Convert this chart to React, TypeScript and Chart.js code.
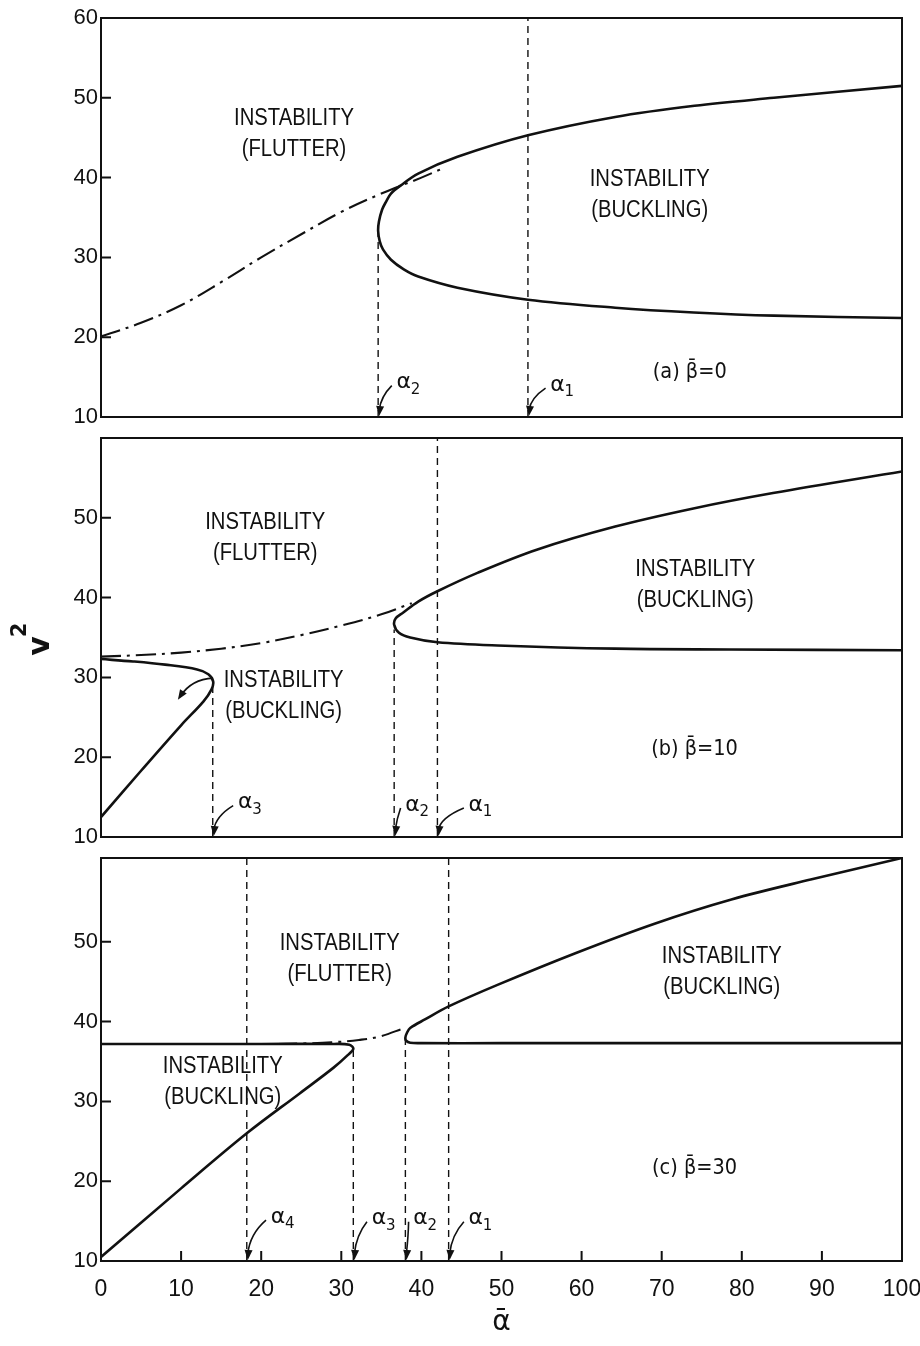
import React, { useEffect, useRef } from "react";
import { Chart, registerables } from "chart.js";

Chart.register(...registerables);

// ---------------- data ----------------
const X_TICKS = [0, 10, 20, 30, 40, 50, 60, 70, 80, 90, 100];
const Y_TICKS_A = [10, 20, 30, 40, 50, 60];
const Y_TICKS_B = [10, 20, 30, 40, 50];
const Y_TICKS_C = [10, 20, 30, 40, 50];

// (a) beta = 0
const A_FLUTTER_X = [0, 5, 10, 15, 20, 25, 30, 35, 40, 43];
const A_FLUTTER_Y = [20.1, 21.8, 24.0, 26.9, 30.0, 32.9, 35.7, 38.0, 40.0, 41.3];
const A_BUCK_X = [100, 84, 74, 64.2, 53.3, 44.5, 39.6, 37.8, 36.2, 35.2, 34.8, 34.6, 34.7, 35.1, 35.6, 36.2, 37.4, 39.6, 44.5, 53.3, 64.2, 74.1, 84, 100];
const A_BUCK_Y = [22.4, 22.7, 23.1, 23.7, 24.7, 26.2, 27.6, 28.5, 29.7, 31.0, 32.0, 33.3, 34.5, 36.0, 37.0, 38.0, 39.0, 40.5, 42.6, 45.3, 47.6, 49.0, 50.0, 51.5];
const A_ALPHA = [53.3, 34.6];
const A_ALPHA_TOP = [60, 33.3];
const A_ALPHA_NAMES = ["1", "2"];

// (b) beta = 10
const B_FLUTTER_X = [0, 5, 10, 15, 20, 25, 30, 35, 38.8];
const B_FLUTTER_Y = [32.6, 32.8, 33.1, 33.6, 34.3, 35.3, 36.5, 37.9, 39.3];
const B_LOOP_X = [0, 5, 10, 12.8, 13.8, 14.0, 13.4, 12.0, 8.0, 4.0, 0];
const B_LOOP_Y = [12.5, 18.3, 24.0, 27.0, 28.5, 29.5, 30.4, 31.0, 31.6, 32.0, 32.3];
const B_BUCK_X = [100, 78.5, 64.2, 49.5, 42, 38.6, 37.2, 36.6, 36.8, 37.7, 39.6, 42, 47, 54.4, 64.2, 74.1, 83.9, 100];
const B_BUCK_Y = [33.4, 33.5, 33.6, 34.0, 34.4, 35.0, 35.6, 36.6, 37.4, 38.1, 39.5, 40.8, 43.1, 46.0, 48.9, 51.2, 53.1, 55.8];
const B_ALPHA = [42.0, 36.6, 13.95];
const B_ALPHA_TOP = [60, 36.0, 29.0];
const B_ALPHA_NAMES = ["1", "2", "3"];

// (c) beta = 30
const C_FLUTTER_X = [22, 25, 28.8, 32.2, 34.7, 37.9];
const C_FLUTTER_Y = [37.2, 37.25, 37.4, 37.7, 38.1, 39.2];
const C_LOOP_X = [0, 10, 18.2, 24.8, 29.0, 30.8, 31.5, 31.0, 29, 20, 10, 0];
const C_LOOP_Y = [10.5, 19.1, 26.0, 31.0, 34.2, 35.8, 36.6, 37.1, 37.2, 37.2, 37.2, 37.2];
const C_BUCK_X = [100, 70, 50, 40, 38.6, 38.1, 38.0, 38.2, 38.6, 40.5, 43.4, 49.5, 59.3, 69.2, 78.7, 88.6, 100];
const C_BUCK_Y = [37.3, 37.3, 37.3, 37.3, 37.35, 37.6, 38.0, 38.6, 39.2, 40.3, 41.9, 44.6, 48.6, 52.3, 55.3, 57.8, 60.5];
const C_ALPHA = [43.4, 38.0, 31.5, 18.2];
const C_ALPHA_TOP = [60.5, 38.0, 36.4, 60.5];
const C_ALPHA_NAMES = ["1", "2", "3", "4"];

// ---------------- annotation layout (data coordinates) ----------------
const A_ANN = {
  regions: [
    { x: 24.1, y: 45.5, lines: ["INSTABILITY", "(FLUTTER)"] },
    { x: 68.5, y: 37.8, lines: ["INSTABILITY", "(BUCKLING)"] },
  ],
  caption: { x: 73.5, y: 15.6, text: "(a) \u03B2\u0304=0" },
  alphaLabelX: [57.0, 37.8],
  alphaLabelY: [14.0, 14.3],
};
const B_ANN = {
  regions: [
    { x: 20.5, y: 47.5, lines: ["INSTABILITY", "(FLUTTER)"] },
    { x: 74.2, y: 41.6, lines: ["INSTABILITY", "(BUCKLING)"] },
    { x: 22.8, y: 27.7, lines: ["INSTABILITY", "(BUCKLING)"] },
  ],
  caption: { x: 74.1, y: 21.0, text: "(b) \u03B2\u0304=10" },
  alphaLabelX: [46.8, 38.9, 18.0],
  alphaLabelY: [14.0, 14.0, 14.3],
  loopArrow: { sx: 14.0, sy: 29.9, cx: 11.3, cy: 29.8, ex: 9.6, ey: 27.2 },
};
const C_ANN = {
  regions: [
    { x: 29.8, y: 47.8, lines: ["INSTABILITY", "(FLUTTER)"] },
    { x: 77.5, y: 46.2, lines: ["INSTABILITY", "(BUCKLING)"] },
    { x: 15.2, y: 32.4, lines: ["INSTABILITY", "(BUCKLING)"] },
  ],
  caption: { x: 74.1, y: 21.6, text: "(c) \u03B2\u0304=30" },
  alphaLabelX: [46.8, 39.9, 34.7, 22.1],
  alphaLabelY: [15.3, 15.3, 15.3, 15.5],
};

// ---------------- helpers ----------------
const INK = "#111";
const TICK_FONT = "Liberation Sans";

const pts = (xs: number[], ys: number[]) => xs.map((x, i) => ({ x, y: ys[i] }));
const solid = (xs: number[], ys: number[]) => ({
  data: pts(xs, ys),
  borderColor: INK,
  borderWidth: 2.6,
  pointRadius: 0,
  tension: 0.35,
  fill: false,
});
const dashDot = (xs: number[], ys: number[]) => ({
  ...solid(xs, ys),
  borderWidth: 2.1,
  borderDash: [20, 6, 3, 6],
});
const vDashed = (alphas: number[], tops: number[]) =>
  alphas.map((a, i) => ({
    data: [
      { x: a, y: 10 },
      { x: a, y: tops[i] },
    ],
    borderColor: INK,
    borderWidth: 1.4,
    borderDash: [7, 5],
    pointRadius: 0,
    tension: 0,
    fill: false,
  }));

function condensedText(ctx: CanvasRenderingContext2D, text: string, x: number, y: number, font: string, sx: number) {
  ctx.save();
  ctx.translate(x, y);
  ctx.scale(sx, 1);
  ctx.font = font;
  ctx.textAlign = "center";
  ctx.textBaseline = "middle";
  ctx.fillText(text, 0, 0);
  ctx.restore();
}

function arrowHead(ctx: CanvasRenderingContext2D, fx: number, fy: number, tx: number, ty: number) {
  const dx = tx - fx;
  const dy = ty - fy;
  const len = Math.hypot(dx, dy) || 1;
  const ux = dx / len;
  const uy = dy / len;
  const L = 10;
  const W = 4;
  ctx.beginPath();
  ctx.moveTo(tx, ty);
  ctx.lineTo(tx - ux * L - uy * W, ty - uy * L + ux * W);
  ctx.lineTo(tx - ux * L + uy * W, ty - uy * L - ux * W);
  ctx.closePath();
  ctx.fill();
}

type Spec = {
  top: number;
  height: number;
  padBottom: number;
  yMax: number;
  yTicks: number[];
  showX: boolean;
  datasets: any[];
  ann: any;
  alphas: number[];
  alphaNames: string[];
  yTitle?: boolean;
};

const SPECS: Spec[] = [
  {
    top: 0,
    height: 430,
    padBottom: 13,
    yMax: 60,
    yTicks: Y_TICKS_A,
    showX: false,
    datasets: [dashDot(A_FLUTTER_X, A_FLUTTER_Y), solid(A_BUCK_X, A_BUCK_Y), ...vDashed(A_ALPHA, A_ALPHA_TOP)],
    ann: A_ANN,
    alphas: A_ALPHA,
    alphaNames: A_ALPHA_NAMES,
  },
  {
    top: 420,
    height: 430,
    padBottom: 13,
    yMax: 60,
    yTicks: Y_TICKS_B,
    showX: false,
    datasets: [
      dashDot(B_FLUTTER_X, B_FLUTTER_Y),
      solid(B_LOOP_X, B_LOOP_Y),
      solid(B_BUCK_X, B_BUCK_Y),
      ...vDashed(B_ALPHA, B_ALPHA_TOP),
    ],
    ann: B_ANN,
    alphas: B_ALPHA,
    alphaNames: B_ALPHA_NAMES,
    yTitle: true,
  },
  {
    top: 840,
    height: 506,
    padBottom: 0,
    yMax: 60.5,
    yTicks: Y_TICKS_C,
    showX: true,
    datasets: [
      dashDot(C_FLUTTER_X, C_FLUTTER_Y),
      solid(C_LOOP_X, C_LOOP_Y),
      solid(C_BUCK_X, C_BUCK_Y),
      ...vDashed(C_ALPHA, C_ALPHA_TOP),
    ],
    ann: C_ANN,
    alphas: C_ALPHA,
    alphaNames: C_ALPHA_NAMES,
  },
];

function overlayPlugin(spec: Spec) {
  return {
    id: "overlay",
    afterDatasetsDraw(chart: any) {
      const { ctx, chartArea: a, scales } = chart;
      const xs = scales.x;
      const ys = scales.y;
      const px = (v: number) => xs.getPixelForValue(v);
      const py = (v: number) => ys.getPixelForValue(v);
      ctx.save();
      ctx.strokeStyle = INK;
      ctx.fillStyle = INK;
      ctx.lineWidth = 2;
      ctx.setLineDash([]);
      ctx.strokeRect(a.left, a.top, a.right - a.left, a.bottom - a.top);
      // inward ticks
      ctx.beginPath();
      spec.yTicks.forEach((v) => {
        const y = py(v);
        ctx.moveTo(a.left, y);
        ctx.lineTo(a.left + 10, y);
      });
      if (spec.showX) {
        X_TICKS.forEach((v) => {
          const x = px(v);
          ctx.moveTo(x, a.bottom);
          ctx.lineTo(x, a.bottom - 10);
        });
      }
      ctx.stroke();

      // region labels
      const regionFont = `23px "${TICK_FONT}"`;
      spec.ann.regions.forEach((r: any) => {
        const cx = px(r.x);
        const cy = py(r.y);
        condensedText(ctx, r.lines[0], cx, cy - 15.5, regionFont, 0.88);
        condensedText(ctx, r.lines[1], cx, cy + 15.5, regionFont, 0.88);
      });

      // caption
      const cap = spec.ann.caption;
      condensedText(ctx, cap.text, px(cap.x), py(cap.y), `22px "DejaVu Sans"`, 0.88);

      // alpha labels with arrows
      ctx.lineWidth = 1.6;
      spec.alphas.forEach((al: number, i: number) => {
        const lx = px(spec.ann.alphaLabelX[i]);
        const ly = py(spec.ann.alphaLabelY[i]);
        const ex = px(al) + 1;
        const ey = a.bottom - 1;
        const sx = lx - 12;
        const sy = ly + 3;
        const cx = ex + 2;
        const cy = sy + (ey - sy) * 0.35;
        ctx.beginPath();
        ctx.moveTo(sx, sy);
        ctx.quadraticCurveTo(cx, cy, ex, ey - 6);
        ctx.stroke();
        arrowHead(ctx, cx, cy, ex, ey);
        ctx.font = `22px "DejaVu Sans"`;
        ctx.textAlign = "center";
        ctx.textBaseline = "middle";
        ctx.fillText("\u03B1", lx, ly);
        ctx.font = `15px "DejaVu Sans"`;
        ctx.textAlign = "left";
        ctx.fillText(spec.alphaNames[i], lx + 7, ly + 7);
      });

      // curved arrow in loop (panel b)
      const la = spec.ann.loopArrow;
      if (la) {
        const s = { x: px(la.sx), y: py(la.sy) };
        const c = { x: px(la.cx), y: py(la.cy) };
        const e = { x: px(la.ex), y: py(la.ey) };
        ctx.lineWidth = 1.8;
        ctx.beginPath();
        ctx.moveTo(s.x, s.y);
        ctx.quadraticCurveTo(c.x, c.y, e.x + 2, e.y - 3);
        ctx.stroke();
        arrowHead(ctx, c.x, c.y, e.x, e.y);
      }

      // y axis title v^2
      if (spec.yTitle) {
        const drawRot = (t: string, x: number, y: number, font: string) => {
          ctx.save();
          ctx.translate(x, y);
          ctx.rotate(-Math.PI / 2);
          ctx.font = font;
          ctx.textAlign = "center";
          ctx.textBaseline = "middle";
          ctx.fillText(t, 0, 0);
          ctx.restore();
        };
        const base = 637 - spec.top;
        drawRot("v", 41, base + 9, `bold 30px "DejaVu Sans"`);
        drawRot("2", 21, base - 7, `bold 21px "DejaVu Sans"`);
      }
      ctx.restore();
    },
  };
}

function buildConfig(spec: Spec): any {
  return {
    type: "line",
    data: { datasets: spec.datasets },
    plugins: [overlayPlugin(spec)],
    options: {
      responsive: false,
      animation: false,
      devicePixelRatio: 1,
      events: [],
      layout: { padding: { top: 18, right: 18, bottom: spec.padBottom, left: 0 } },
      plugins: { legend: { display: false }, tooltip: { enabled: false } },
      scales: {
        x: {
          type: "linear",
          min: 0,
          max: 100,
          display: spec.showX,
          afterBuildTicks: (s: any) => {
            s.ticks = X_TICKS.map((v) => ({ value: v }));
          },
          afterFit: (s: any) => {
            if (spec.showX) {
              s.height = 85;
              s.paddingLeft = 0;
              s.paddingRight = 0;
            }
          },
          grid: { display: false, drawTicks: false },
          border: { display: false },
          ticks: {
            padding: 15,
            color: INK,
            autoSkip: false,
            maxRotation: 0,
            font: { family: TICK_FONT, size: 23 },
          },
          title: {
            display: true,
            text: "\u1FB1",
            color: INK,
            font: { family: "DejaVu Sans", size: 28, lineHeight: 1 },
            padding: { top: 0, bottom: 9 },
          },
        },
        y: {
          type: "linear",
          min: 10,
          max: spec.yMax,
          afterBuildTicks: (s: any) => {
            s.ticks = spec.yTicks.map((v) => ({ value: v }));
          },
          afterFit: (s: any) => {
            s.width = 101;
            s.paddingTop = 0;
            s.paddingBottom = 0;
          },
          grid: { display: false, drawTicks: false },
          border: { display: false },
          ticks: {
            padding: 3,
            color: INK,
            font: { family: TICK_FONT, size: 22 },
          },
        },
      },
    },
  };
}

function Panel({ spec }: { spec: Spec }) {
  const ref = useRef<HTMLCanvasElement | null>(null);
  useEffect(() => {
    if (!ref.current) return;
    const chart = new Chart(ref.current, buildConfig(spec));
    return () => chart.destroy();
  }, [spec]);
  return (
    <canvas
      ref={ref}
      width={920}
      height={spec.height}
      style={{ position: "absolute", left: 0, top: spec.top, width: 920, height: spec.height }}
    />
  );
}

export default function App() {
  return (
    <div style={{ position: "absolute", left: 0, top: 0, width: 920, height: 1346, background: "#fff", overflow: "hidden" }}>
      {SPECS.map((s, i) => (
        <Panel key={i} spec={s} />
      ))}
    </div>
  );
}
